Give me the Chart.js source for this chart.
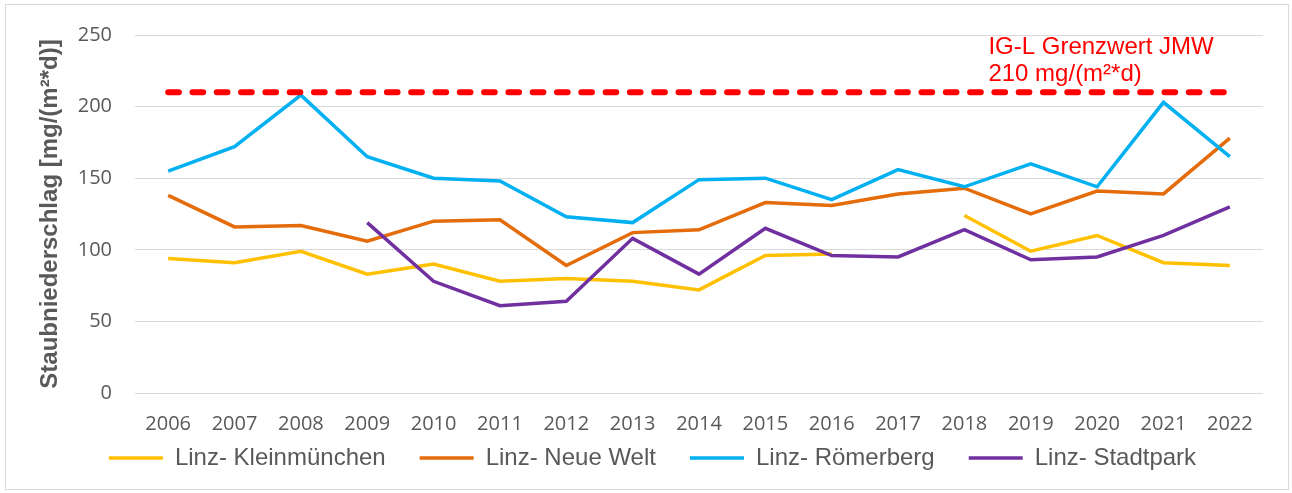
<!DOCTYPE html>
<html lang="de">
<head>
    <meta charset="UTF-8">
    <title>Staubniederschlag Linz</title>
    <script src="https://cdn.jsdelivr.net/npm/chart.js"></script>
    <style>
        body {
            margin: 0;
            background: #ffffff;
        }
        .chart-box {
            position: absolute;
            left: 5px;
            top: 4px;
            width: 1284px;
            height: 486px;
            border: 1px solid #d9d9d9;
            box-sizing: border-box;
        }
    </style>
</head>
<body>
    <div class="chart-box">
        <canvas id="dustChart"></canvas>
    </div>

    <script>
        const years = ['2006', '2007', '2008', '2009', '2010', '2011', '2012', '2013', '2014',
                       '2015', '2016', '2017', '2018', '2019', '2020', '2021', '2022'];
        const kleinmuenchen = [94, 91, 99, 83, 90, 78, 80, 78, 72, 96, 97, null, 124, 99, 110, 91, 89];
        const neueWelt = [138, 116, 117, 106, 120, 121, 89, 112, 114, 133, 131, 139, 143, 125, 141, 139, 178];
        const roemerberg = [155, 172, 208, 165, 150, 148, 123, 119, 149, 150, 135, 156, 144, 160, 144, 203, 165];
        const stadtpark = [null, null, null, 119, 78, 61, 64, 108, 83, 115, 96, 95, 114, 93, 95, 110, 130];
        const grenzwert = [210, 210, 210, 210, 210, 210, 210, 210, 210, 210, 210, 210, 210, 210, 210, 210, 210];
        const yTicks = [0, 50, 100, 150, 200, 250];
        const limitLabel = ['IG-L Grenzwert JMW', '210 mg/(m²*d)'];

        const grey = '#595959';

        // Beschriftung des Grenzwerts oberhalb der Linie
        const limitText = {
            id: 'limitText',
            afterDatasetsDraw(chart) {
                const ctx = chart.ctx;
                const x = chart.scales.x.getPixelForValue(12) + 24;
                const y = chart.scales.y.getPixelForValue(grenzwert[0]);
                ctx.save();
                ctx.fillStyle = '#ff0000';
                ctx.font = '24px "Liberation Sans", Arial, sans-serif';
                ctx.textBaseline = 'alphabetic';
                ctx.fillText(limitLabel[0], x, y - 38);
                ctx.fillText(limitLabel[1], x, y - 11);
                ctx.restore();
            }
        };

        // Legende verschieben, wie im Original
        const legendPlace = {
            id: 'legendPlace',
            afterLayout(chart) {
                const lg = chart.legend;
                const top = chart.chartArea.bottom + 19;
                lg.bottom += top - lg.top;
                lg.top = top;
                lg.left += 18;
                lg.right += 18;
            }
        };

        const line = (label, data, color, order) => ({
            label: label,
            data: data,
            borderColor: color,
            backgroundColor: color,
            borderWidth: 3.5,
            pointRadius: 0,
            tension: 0,
            spanGaps: false,
            order: order
        });

        new Chart(document.getElementById('dustChart'), {
            type: 'line',
            data: {
                labels: years,
                datasets: [
                    line('Linz- Kleinmünchen', kleinmuenchen, '#ffc000', 4),
                    line('Linz- Neue Welt', neueWelt, '#e46c0a', 3),
                    line('Linz- Römerberg', roemerberg, '#00b0f0', 2),
                    line('Linz- Stadtpark', stadtpark, '#7030a0', 1),
                    {
                        label: 'Grenzwert',
                        data: grenzwert,
                        borderColor: '#ff0000',
                        borderWidth: 6,
                        borderDash: [10.7, 13.6],
                        borderCapStyle: 'round',
                        pointRadius: 0,
                        order: 0
                    }
                ]
            },
            options: {
                responsive: true,
                maintainAspectRatio: false,
                animation: false,
                layout: { padding: { left: 0, right: 25, top: 30, bottom: -15 } },
                plugins: {
                    tooltip: { enabled: false },
                    legend: {
                        position: 'bottom',
                        labels: {
                            usePointStyle: true,
                            pointStyle: 'line',
                            pointStyleWidth: 54,
                            boxHeight: 4,
                            padding: 34,
                            color: grey,
                            font: { family: '"Liberation Sans", Arial, sans-serif', size: 24 },
                            filter: item => item.datasetIndex < 4,
                            sort: (a, b) => a.datasetIndex - b.datasetIndex
                        }
                    }
                },
                scales: {
                    x: {
                        offset: true,
                        grid: { display: false },
                        border: { display: false },
                        ticks: {
                            color: grey,
                            font: { family: '"Open Sans", sans-serif', size: 20 },
                            padding: 11,
                            maxRotation: 0,
                            autoSkip: false
                        },
                        afterFit: scale => { scale.height = 43; }
                    },
                    y: {
                        min: 0,
                        max: 250,
                        afterBuildTicks: scale => { scale.ticks = yTicks.map(v => ({ value: v })); },
                        grid: { color: '#d9d9d9', lineWidth: 1, drawTicks: true, tickLength: 18, tickColor: 'rgba(0,0,0,0)' },
                        border: { display: false },
                        ticks: {
                            color: grey,
                            font: { family: '"Open Sans", sans-serif', size: 20 },
                            padding: 5
                        },
                        title: {
                            display: true,
                            text: 'Staubniederschlag [mg/(m²*d)]',
                            color: grey,
                            font: { family: '"Liberation Sans", Arial, sans-serif', size: 24, weight: 'bold' },
                            padding: { top: 30, bottom: 0 }
                        },
                        afterFit: scale => { scale.width = 129; }
                    }
                }
            },
            plugins: [limitText, legendPlace]
        });
    </script>
</body>
</html>
